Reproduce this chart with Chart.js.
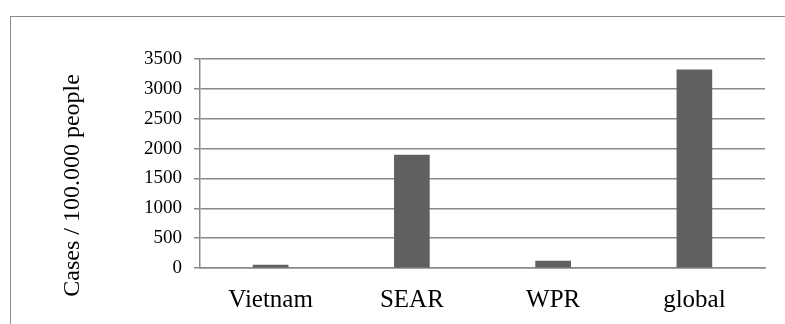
<!DOCTYPE html>
<html>
<head>
<meta charset="utf-8">
<script src="https://cdn.jsdelivr.net/npm/chart.js@4.4.0/dist/chart.umd.min.js"></script>
<style>
  html, body { margin: 0; padding: 0; background: #fff; }
  #wrap { position: relative; width: 785px; height: 324px; overflow: hidden; }
  #frame { position: absolute; left: 10px; top: 16px; width: 900px; height: 400px;
           border-left: 1.5px solid #8a8a8a; border-top: 1.5px solid #8a8a8a; }
  canvas { position: absolute; left: 0; top: 0; }
</style>
</head>
<body>
<div id="wrap">
  <div id="frame"></div>
  <canvas id="c" width="785" height="324"></canvas>
</div>
<script>
const categories = ["Vietnam", "SEAR", "WPR", "global"];
const cases = [50, 1890, 115, 3320];
const yTicks = [0, 500, 1000, 1500, 2000, 2500, 3000, 3500];
const yTitle = "Cases / 100.000 people";

const FONT = "'Liberation Serif', 'Times New Roman', serif";
const GRID = "#898989";

const yTitlePlugin = {
  id: 'yTitlePlugin',
  afterDraw(chart) {
    const ctx = chart.ctx;
    const area = chart.chartArea;
    ctx.save();
    ctx.font = "24px " + FONT;
    ctx.fillStyle = "#000";
    ctx.textAlign = "center";
    ctx.textBaseline = "middle";
    ctx.translate(73, area.top + (area.bottom - area.top) * 0.605);
    ctx.rotate(-Math.PI / 2);
    ctx.fillText(yTitle, 0, 0);
    ctx.restore();
  }
};

new Chart(document.getElementById('c'), {
  type: 'bar',
  data: {
    labels: categories,
    datasets: [{
      data: cases,
      backgroundColor: "#606060",
      borderWidth: 0,
      barThickness: 35
    }]
  },
  plugins: [yTitlePlugin],
  options: {
    responsive: false,
    animation: false,
    layout: { padding: { left: 0, top: 59, right: 20, bottom: 0 } },
    plugins: { legend: { display: false }, tooltip: { enabled: false } },
    scales: {
      x: {
        grid: { display: false, drawTicks: false },
        border: { display: true, color: GRID, width: 1.5 },
        ticks: { color: "#000", font: { family: FONT, size: 25 }, padding: 17 },
        afterFit: (s) => { s.height = 56; }
      },
      y: {
        min: 0, max: 3500,
        afterBuildTicks: (s) => { s.ticks = yTicks.map(v => ({ value: v })); },
        grid: { color: GRID, lineWidth: 1.5, tickLength: 6, drawTicks: true },
        border: { display: true, color: GRID, width: 1.5 },
        ticks: { color: "#000", font: { family: FONT, size: 19 }, padding: 12,
                 callback: (v) => String(v) },
        afterFit: (s) => { s.width = 200; }
      }
    }
  }
});
</script>
</body>
</html>
